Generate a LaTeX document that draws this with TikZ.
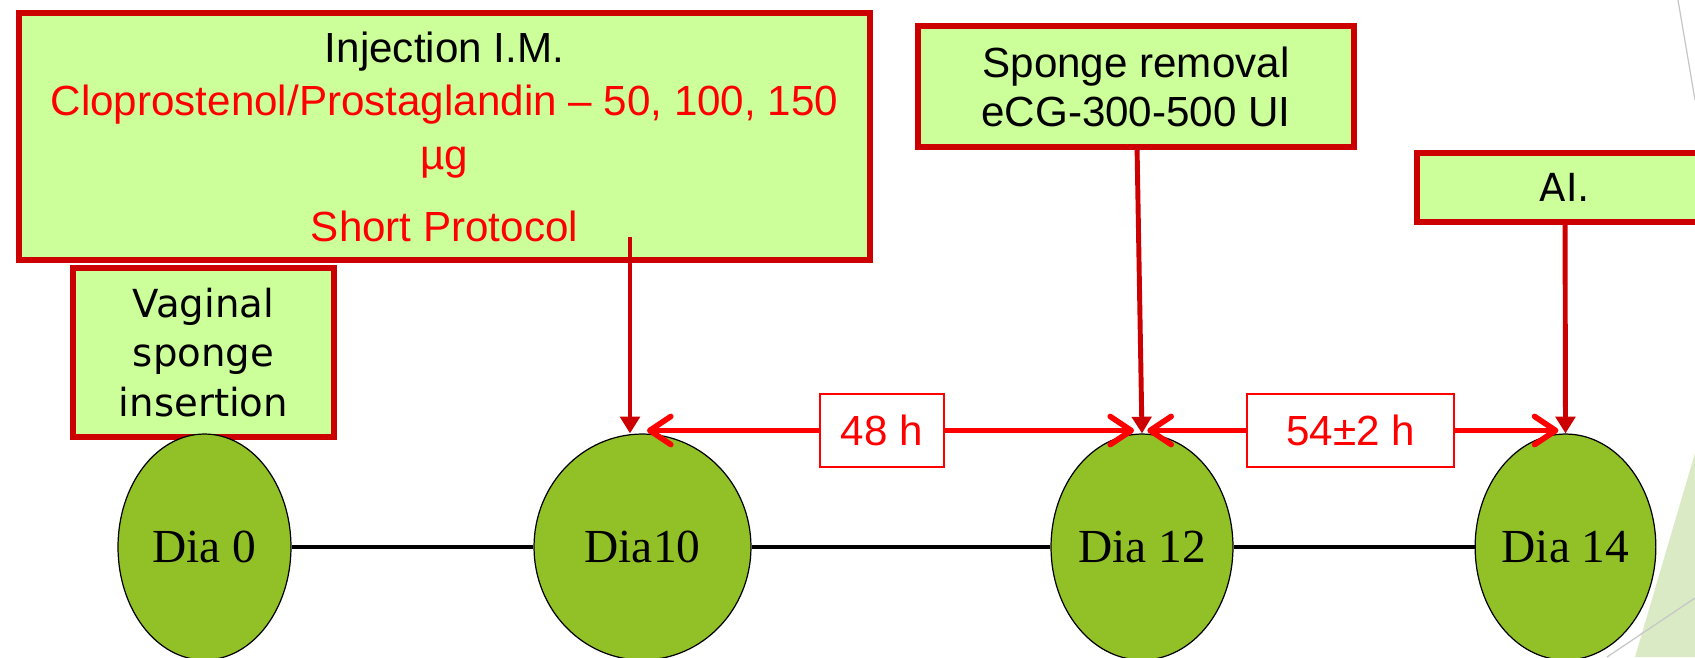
\documentclass[tikz,border=0pt]{standalone}
\usepackage{fontspec}
\setmainfont{Liberation Sans}
\newfontfamily\comicfont{DejaVu Sans}
\newfontfamily\romanfont{Liberation Serif}
\usetikzlibrary{arrows.meta,shapes.geometric}
\definecolor{boxfill}{RGB}{204,255,153}
\definecolor{boxline}{RGB}{204,0,0}
\definecolor{dayfill}{RGB}{146,193,39}
\definecolor{decofill}{RGB}{218,234,196}

\begin{document}
\begin{tikzpicture}[x=0.02cm,y=-0.02cm,
  evbox/.style={draw=boxline,fill=boxfill,line width=3.4pt,inner sep=0pt,align=center},
  hourbox/.style={draw=red,fill=white,line width=0.9pt,text=red,inner sep=0pt,
    font=\fontsize{24}{28}\selectfont},
  day/.style={ellipse,draw=black,fill=dayfill,line width=0.7pt,inner sep=0pt,
    minimum height=4.52cm,font=\romanfont\fontsize{27}{32}\selectfont},
  down/.style={draw=boxline,line width=2.8pt,-{Triangle[length=9.5pt,width=11pt]}},
  span/.style={draw=red,line width=3.2pt,-{Straight Barb[length=12pt,width=16pt,round]}}]
\useasboundingbox (0,0) rectangle (1695,657);
% slide background
\fill[decofill] (1695,453) -- (1635,657) -- (1695,657) -- cycle;
\draw[gray!45,line width=0.7pt] (1678,0) -- (1695,100);
\draw[gray!45,line width=0.7pt] (1607,657) -- (1695,598);

% event boxes
\node[evbox,minimum width=17.02cm,minimum height=4.94cm,font=\fontsize{24}{30.6}\selectfont]
  (inj) at (444.5,136.5) {Injection I.M.\\
  \textcolor{red}{Cloprostenol/Prostaglandin – 50, 100, 150}\\
  \textcolor{red}{µg}\\[10pt]
  \textcolor{red}{Short Protocol}};
\node[evbox,minimum width=5.22cm,minimum height=3.38cm,font=\comicfont\fontsize{22}{28.4}\selectfont]
  (ins) at (203.5,352.5) {Vaginal\\ sponge\\ insertion};
\node[evbox,minimum width=8.72cm,minimum height=2.42cm,font=\fontsize{24}{27.8}\selectfont]
  (rem) at (1136,86.5) {Sponge removal\\ eCG-300-500 UI};
\node[evbox,minimum width=5.92cm,minimum height=1.38cm,font=\comicfont\fontsize{22}{28}\selectfont]
  (ai) at (1565,187.5) {AI.};
\coordinate (injfoot) at (630,237);

% intervals
\node[hourbox,minimum width=2.48cm,minimum height=1.46cm] (h48) at (882,430.5) {48 h};
\node[hourbox,minimum width=4.14cm,minimum height=1.46cm] (h54) at (1350.5,430.5) {54±2 h};

% days
\foreach \n/\x/\w/\lab in {d0/204.5/3.46/Dia 0,d10/642.5/4.34/Dia10,d12/1142/3.64/Dia 12,d14/1565.5/3.46/Dia 14}
  \node[day,minimum width=\w cm] (\n) at (\x,547) {\lab};
\foreach \a/\b in {d0/d10,d10/d12,d12/d14}
  \draw[line width=2.2pt] (\a) -- (\b);

\draw[span,shorten >=2.5pt] (h48.west) -- (h48.west -| d10.north);
\draw[span,shorten >=4.5pt] (h48.east) -- (h48.east -| d12.north);
\draw[span,shorten >=3pt] (h54.west) -- (h54.west -| d12.north);
\draw[span,shorten >=4pt] (h54.east) -- (h54.east -| d14.north);

\draw[down] (injfoot) -- (injfoot |- d10.north);
\draw[down] (rem) -- (d12.north);
\draw[down] (ai) -- (d14.north);
\end{tikzpicture}
\end{document}
